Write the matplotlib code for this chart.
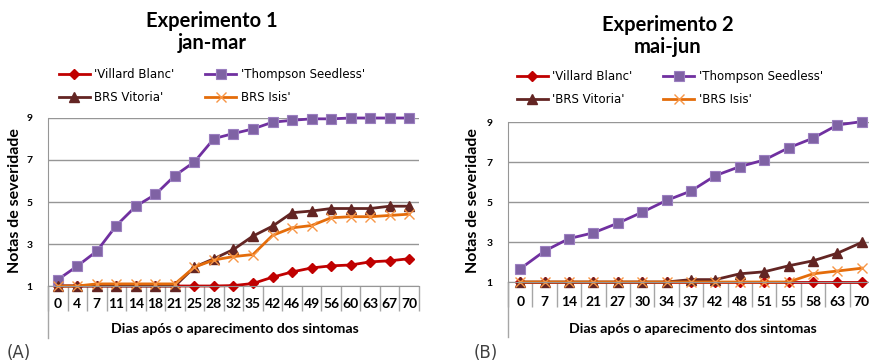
import numpy as np
import matplotlib
matplotlib.use("Agg")
import matplotlib.pyplot as plt

plt.rcParams['font.family'] = ['Lato', 'DejaVu Sans']

# Experimento 1 (jan-mar)
dias1 = ['0', '4', '7', '11', '14', '18', '21', '25', '28', '32', '35', '42', '46', '49', '56', '60', '63', '67', '70']
villard1 = [1, 1, 1, 1, 1, 1, 1, 1, 1, 1.02, 1.12, 1.42, 1.67, 1.86, 1.96, 2.0, 2.15, 2.2, 2.3]
thompson1 = [1.3, 1.95, 2.66, 3.88, 4.8, 5.36, 6.26, 6.91, 8.02, 8.26, 8.48, 8.8, 8.89, 8.96, 8.96, 9.0, 9.0, 9.0, 9.0]
vitoria1 = [1, 1, 1, 1, 1, 1, 1, 1.9, 2.3, 2.74, 3.38, 3.85, 4.49, 4.57, 4.69, 4.69, 4.69, 4.8, 4.8]
isis1 = [1, 1, 1.1, 1.1, 1.1, 1.1, 1.1, 1.9, 2.24, 2.4, 2.5, 3.41, 3.77, 3.88, 4.25, 4.3, 4.3, 4.36, 4.42]

# Experimento 2 (mai-jun)
dias2 = ['0', '7', '14', '21', '27', '30', '34', '37', '42', '48', '51', '55', '58', '63', '70']
villard2 = [1, 1, 1, 1, 1, 1, 1, 1, 1, 1, 1, 1, 1, 1, 1]
thompson2 = [1.66, 2.55, 3.17, 3.46, 3.94, 4.49, 5.08, 5.55, 6.32, 6.77, 7.1, 7.71, 8.19, 8.85, 9.02]
vitoria2 = [1, 1, 1, 1, 1, 1, 1, 1.12, 1.12, 1.41, 1.51, 1.81, 2.06, 2.44, 2.98]
isis2 = [1, 1, 1, 1, 1, 1, 1, 1, 1, 1, 1, 1, 1.41, 1.55, 1.69]

labels1 = ["'Villard Blanc'", "'Thompson Seedless'", "BRS Vitoria'", "BRS Isis'"]
labels2 = ["'Villard Blanc'", "'Thompson Seedless'", "'BRS Vitoria'", "'BRS Isis'"]

grey = '#969696'
W, H = 869, 364

fig = plt.figure(figsize=(W / 100, H / 100), dpi=100)


def painel(rect, dias, series, labels, titulo, sub, tcx, tcy, legc, ext, xl_y, tick_pad, ylab_x, letra, letra_x):
    ax = fig.add_axes(rect)
    n = len(dias)
    x = np.arange(n)
    styles = [
        dict(color='#c00000', marker='D', markersize=5, mfc='#c00000', mec='#c00000'),
        dict(color='#7030a0', marker='s', markersize=6.5, mfc='#7f62a4', mec='#9b7fc0', mew=0.8),
        dict(color='#632523', marker='^', markersize=7.5, mfc='#632523', mec='#632523'),
        dict(color='#e46c0a', marker='x', markersize=7.5, mfc='#f79646', mec='#f79646', mew=1.0),
    ]
    handles = []
    for ys, st, lab in zip(series, styles, labels):
        h, = ax.plot(x, ys, lw=2, label=lab, clip_on=False, **st)
        handles.append(h)

    ax.set_xlim(-0.5, n - 0.5)
    ax.set_ylim(1, 9)
    ax.set_yticks([1, 3, 5, 7, 9])
    ax.yaxis.grid(True, color=grey, lw=1)
    ax.set_axisbelow(True)
    for s in ['top', 'right']:
        ax.spines[s].set_visible(False)
    ax.spines['left'].set_color(grey)
    ax.spines['bottom'].set_color(grey)
    ax.tick_params(axis='y', length=0, pad=11, labelsize=7.5)
    for t in ax.get_yticklabels():
        t.set_fontweight('bold')

    # category boxes
    ax.set_xticks(np.arange(n + 1) - 0.5)
    ax.set_xticklabels([])
    ax.tick_params(axis='x', which='major', length=18, color='#a6a6a6', width=1)
    ax.set_xticks(x, minor=True)
    ax.set_xticklabels(dias, minor=True, fontsize=10, fontweight='bold')
    ax.tick_params(axis='x', which='minor', length=0, pad=tick_pad)
    ax.plot([0, 0], [0, ext], color='#a6a6a6', lw=1, transform=ax.transAxes, clip_on=False)

    ax.text(0.504, xl_y, 'Dias após o aparecimento dos sintomas', transform=ax.transAxes,
            ha='center', va='center', fontsize=10.2, fontweight='bold')
    fig.text(ylab_x, (rect[1] + rect[1] + rect[3]) / 2 + 0.005, 'Notas de severidade', rotation=90,
             ha='center', va='center', fontsize=11.5, fontweight='bold')

    fig.text(tcx / W, 1 - tcy / H, titulo, ha='center', va='center', fontsize=14.5, fontweight='bold')
    fig.text(tcx / W, 1 - (tcy + 22) / H, sub, ha='center', va='center', fontsize=14.5, fontweight='bold')

    order = [0, 2, 1, 3]
    fig.legend([handles[i] for i in order], [labels[i] for i in order], ncol=2, loc='center',
               bbox_to_anchor=(legc[0] / W, 1 - legc[1] / H), frameon=False,
               prop={'family': 'DejaVu Sans', 'size': 8.5},
               handlelength=2.6, handletextpad=0.4, columnspacing=2.6, labelspacing=0.85)

    fig.text(letra_x / W, 1 - 353 / H, letra, ha='left', va='center', fontsize=12, color='#404040',
             family='DejaVu Sans')
    return ax


painel([48 / W, 1 - 286 / H, 371 / W, 168 / H], dias1, [villard1, thompson1, vitoria1, isis1], labels1,
       'Experimento 1', 'jan-mar', 212, 21, (212, 86), -0.31, -0.256, 8.5, 15 / W, '(A)', 7)
painel([508 / W, 1 - 282 / H, 366 / W, 160 / H], dias2, [villard2, thompson2, vitoria2, isis2], labels2,
       'Experimento 2', 'mai-jun', 668, 25, (670, 88), -0.344, -0.294, 10, 473 / W, '(B)', 474)

fig.savefig('out.png', dpi=100)
